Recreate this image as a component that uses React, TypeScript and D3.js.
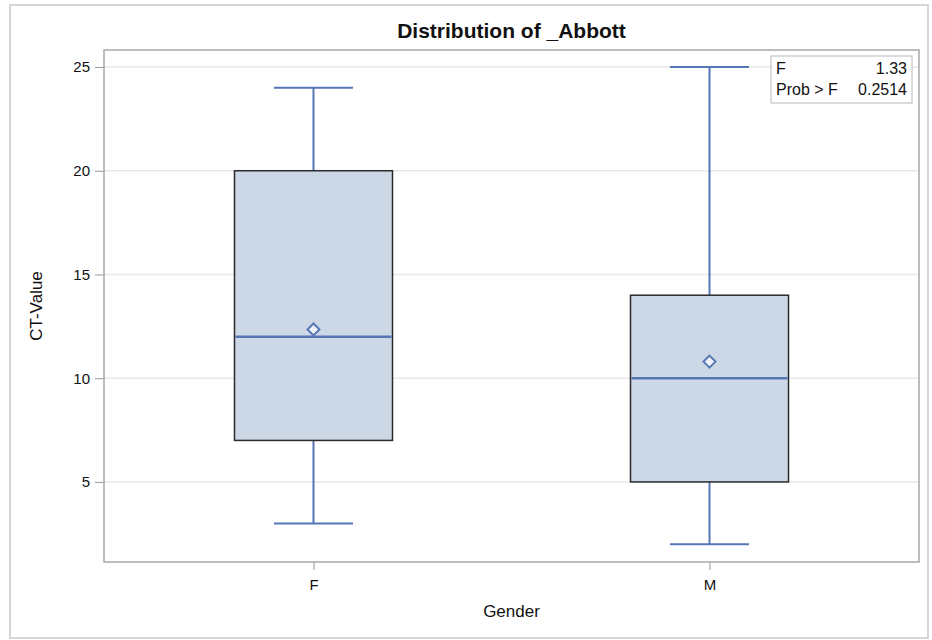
import * as d3 from 'd3';
import React, { useEffect, useRef } from 'react';

// Box plot summary per gender
const genders = ["F", "M"];
const minValues = [3, 2];
const q1Values = [7, 5];
const medianValues = [12, 10];
const q3Values = [20, 14];
const maxValues = [24, 25];
const meanValues = [12.35, 10.8];

const yTicks = [5, 10, 15, 20, 25];
const yDomain = [1.14, 25.82];

const statLabels = ["F", "Prob > F"];
const statValues = ["1.33", "0.2514"];

const App: React.FC = () => {
  const ref = useRef<SVGSVGElement>(null);

  useEffect(() => {
    if (!ref.current) return;
    const root = d3.select(ref.current);
    root.selectAll("*").remove();

    const W = 932, H = 640;
    const margin = { top: 50, right: 13, bottom: 78, left: 104 };
    const width = W - margin.left - margin.right;
    const height = H - margin.top - margin.bottom;
    const font = "'Liberation Sans', Arial, sans-serif";

    root.attr("width", W).attr("height", H);

    // outer frame
    root.append("rect")
      .attr("x", 10).attr("y", 5)
      .attr("width", 918).attr("height", 633)
      .attr("fill", "#fff")
      .attr("stroke", "#d6d6d6")
      .attr("stroke-width", 2);

    root.append("text")
      .attr("x", margin.left + width / 2).attr("y", 38)
      .attr("text-anchor", "middle")
      .style("font", `bold 21px ${font}`)
      .attr("fill", "#111")
      .text("Distribution of _Abbott");

    const svg = root.append("g")
      .attr("transform", `translate(${margin.left},${margin.top})`);

    const x = d3.scalePoint<string>()
      .domain(genders)
      .range([0, width])
      .padding(0.529);

    const y = d3.scaleLinear()
      .domain(yDomain)
      .range([height, 0]);

    // grid
    svg.selectAll(".grid")
      .data(yTicks)
      .enter().append("line")
      .attr("x1", 0).attr("x2", width)
      .attr("y1", d => y(d)).attr("y2", d => y(d))
      .attr("stroke", "#e8e8e8")
      .attr("stroke-width", 1.5);

    // Y axis
    const yAxis = svg.append("g")
      .call(d3.axisLeft(y).tickValues(yTicks).tickSize(9).tickPadding(5));
    yAxis.select(".domain").remove();
    yAxis.selectAll("line").attr("stroke", "#999");
    yAxis.selectAll("text")
      .style("fill", "#111")
      .style("font", `15px ${font}`);

    // X axis
    const xAxis = svg.append("g")
      .attr("transform", `translate(0,${height})`)
      .call(d3.axisBottom(x).tickSize(8).tickPadding(9));
    xAxis.select(".domain").remove();
    xAxis.selectAll("line").attr("stroke", "#999");
    xAxis.selectAll("text")
      .style("fill", "#111")
      .style("font", `15px ${font}`);

    // axis labels
    svg.append("text")
      .attr("x", width / 2).attr("y", height + 55)
      .attr("text-anchor", "middle")
      .style("font", `17px ${font}`)
      .attr("fill", "#111")
      .text("Gender");

    svg.append("text")
      .attr("transform", `translate(${36 - margin.left},${height / 2}) rotate(-90)`)
      .attr("text-anchor", "middle")
      .attr("dy", "0.35em")
      .style("font", `17px ${font}`)
      .attr("fill", "#111")
      .text("CT-Value");

    const data = genders.map((g, i) => ({
      g,
      min: minValues[i], q1: q1Values[i], med: medianValues[i],
      q3: q3Values[i], max: maxValues[i], mean: meanValues[i],
    }));

    const boxW = 158;
    const capW = 79;
    const blue = "#5676b5";

    const box = svg.selectAll(".box")
      .data(data)
      .enter().append("g")
      .attr("transform", d => `translate(${x(d.g)},0)`);

    // whiskers
    box.append("line")
      .attr("x1", 0).attr("x2", 0)
      .attr("y1", d => y(d.max)).attr("y2", d => y(d.q3))
      .attr("stroke", blue).attr("stroke-width", 2);
    box.append("line")
      .attr("x1", 0).attr("x2", 0)
      .attr("y1", d => y(d.q1)).attr("y2", d => y(d.min))
      .attr("stroke", blue).attr("stroke-width", 2);
    box.append("line")
      .attr("x1", -capW / 2).attr("x2", capW / 2)
      .attr("y1", d => y(d.max)).attr("y2", d => y(d.max))
      .attr("stroke", blue).attr("stroke-width", 2);
    box.append("line")
      .attr("x1", -capW / 2).attr("x2", capW / 2)
      .attr("y1", d => y(d.min)).attr("y2", d => y(d.min))
      .attr("stroke", blue).attr("stroke-width", 2);

    // box
    box.append("rect")
      .attr("x", -boxW / 2)
      .attr("width", boxW)
      .attr("y", d => y(d.q3))
      .attr("height", d => y(d.q1) - y(d.q3))
      .attr("fill", "#cdd8e7")
      .attr("stroke", "#2a2a2a")
      .attr("stroke-width", 1.5);

    // median
    box.append("line")
      .attr("x1", -boxW / 2 + 1).attr("x2", boxW / 2 - 1)
      .attr("y1", d => y(d.med)).attr("y2", d => y(d.med))
      .attr("stroke", blue).attr("stroke-width", 2.5);

    // mean diamond
    box.append("path")
      .attr("d", "M0,-6L6,0L0,6L-6,0Z")
      .attr("transform", d => `translate(0,${y(d.mean)})`)
      .attr("fill", "#eef2f8")
      .attr("stroke", blue)
      .attr("stroke-width", 2);

    // plot frame
    svg.append("rect")
      .attr("x", 0).attr("y", 0)
      .attr("width", width).attr("height", height)
      .attr("fill", "none")
      .attr("stroke", "#a8a8a8")
      .attr("stroke-width", 1.5);

    // stats inset
    const inset = svg.append("g")
      .attr("transform", `translate(${771 - margin.left},${56 - margin.top})`);
    inset.append("rect")
      .attr("width", 141).attr("height", 47)
      .attr("fill", "#fff")
      .attr("stroke", "#b8b8b8")
      .attr("stroke-width", 1);
    statLabels.forEach((lab, i) => {
      inset.append("text")
        .attr("x", 5).attr("y", 18 + i * 21)
        .style("font", `16px ${font}`)
        .attr("fill", "#111")
        .text(lab);
      inset.append("text")
        .attr("x", 136).attr("y", 18 + i * 21)
        .attr("text-anchor", "end")
        .style("font", `16px ${font}`)
        .attr("fill", "#111")
        .text(statValues[i]);
    });
  }, []);

  return <svg ref={ref} style={{ position: "absolute", left: 0, top: 0, display: "block" }}></svg>;
};

export default App;
